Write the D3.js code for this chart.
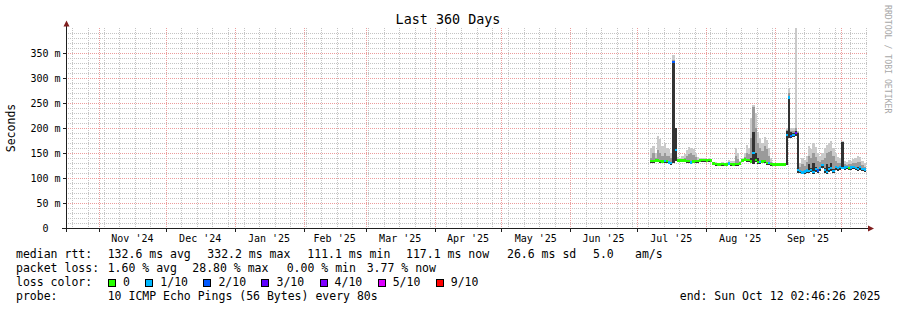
<!DOCTYPE html>
<html>
<head>
<meta charset="utf-8">
<script src="https://cdnjs.cloudflare.com/ajax/libs/d3/7.8.5/d3.min.js"></script>
<style>
  html, body { margin: 0; padding: 0; background: #fff; }
  svg { display: block; font-family: "DejaVu Sans Mono", monospace; }
  text { white-space: pre; }
</style>
</head>
<body>
<svg id="chart" width="897" height="310"></svg>
<script>
// one value per day, first day below
const firstDay = new Date(2025, 6, 7);
const endTime = new Date(2025, 9, 12, 2, 46, 26);

// median rtt in ms
const median = [
  134,134,135,135,134,133,134,134,131,130,
  332,156,135,135,135,135,134,134,131,133,
  134,134,135,136,136,135,136,135,129,128,
  127,127,128,127,127,129,128,127,128,128,
  129,135,137,136,136,133,150,136,132,132,
  133,134,130,130,128,127,127,127,127,127,
  127,186,261,184,186,190,116,114,111,113,
  115,114,116,112,118,115,120,126,116,112,
  118,120,114,122,120,122,120,121,122,120,
  121,122,120,118,122,118,117
];
// lost pings out of 10
const loss = [
  0,0,0,0,0,0,1,0,1,1,
  2,1,0,0,0,0,0,0,1,0,
  0,0,0,0,0,0,0,0,0,0,
  0,0,0,0,0,1,0,0,0,0,
  0,0,0,0,0,0,1,0,0,1,
  0,0,0,1,0,0,0,0,0,0,
  0,1,1,2,1,3,1,1,1,1,
  1,1,1,1,1,2,1,1,1,1,
  1,1,1,1,1,1,1,1,1,0,
  1,1,1,1,1,1,1
];
// smoke: lowest ping, outer / middle / inner upper bounds (ms)
const smokeLow = [
  131,131,132,132,131,130,131,131,128,127,
  130,134,132,132,132,132,131,131,128,130,
  131,131,132,133,133,132,133,132,126,125,
  124,124,125,124,124,126,125,124,125,125,
  126,132,134,133,133,130,128,133,129,129,
  130,131,127,127,125,124,124,124,124,124,
  124,127,180,180,182,184,111,110,108,109,
  111,110,112,108,113,111,115,120,111,108,
  112,114,110,117,115,117,118,117,118,116,
  117,118,116,114,117,114,112
];
const smokeOuter = [
  160,165,150,184,178,165,170,160,158,150,
  346,200,142,140,145,148,156,162,160,158,
  150,142,140,140,140,139,140,139,133,132,
  131,131,132,131,133,136,134,135,160,150,
  134,140,150,166,160,220,246,230,192,180,
  170,182,176,160,140,131,131,131,131,131,
  131,200,280,200,200,400,195,130,140,136,
  145,165,158,170,162,150,145,150,160,166,
  170,175,160,150,142,140,174,135,132,136,
  135,138,140,144,142,135,130
];
const smokeMid = [
  140,150,140,156,150,145,150,145,144,140,
  336,200,138,137,138,140,145,148,150,146,
  142,137,137,138,138,137,138,137,131,130,
  129,129,130,129,130,132,131,130,145,138,
  131,137,142,150,148,180,243,200,170,160,
  155,165,158,145,132,129,129,129,129,129,
  129,196,270,195,194,200,192,122,128,124,
  132,145,140,150,142,135,132,136,140,150,
  152,155,145,135,130,130,173,128,127,128,
  128,130,130,132,132,126,122
];
const smokeCore = [
  136,136,137,137,136,135,136,136,133,132,
  334,200,137,137,137,137,136,136,133,135,
  136,136,137,138,138,137,138,137,131,130,
  129,129,130,129,129,131,130,129,130,130,
  131,137,139,138,138,140,193,150,140,134,
  135,136,132,132,130,129,129,129,129,129,
  129,195,262,192,190,194,190,117,114,116,
  118,128,120,130,122,118,123,129,120,128,
  122,130,118,125,123,125,172,124,125,123,
  124,125,123,122,125,121,119
];

const yTicks = [0, 50, 100, 150, 200, 250, 300, 350];
const yTickLabels = ["0  ", "50 m", "100 m", "150 m", "200 m", "250 m", "300 m", "350 m"];
const monthLabels = ["Nov '24", "Dec '24", "Jan '25", "Feb '25", "Mar '25", "Apr '25",
                     "May '25", "Jun '25", "Jul '25", "Aug '25", "Sep '25"];
const lossLevels = [0, 1, 2, 3, 4, 5, 9];
const lossLabels = ["0", "1/10", "2/10", "3/10", "4/10", "5/10", "9/10"];
const lossColors = ["#26ff00", "#00b8ff", "#0059ff", "#5e00ff", "#7e00ff", "#dd00ff", "#ff0000"];

document.addEventListener("DOMContentLoaded", function() {
    drawChart("#chart");
});

function drawChart(selector) {
    const svg = d3.select(selector);
    const left = 66, right = 866, top = 28, bottom = 228;
    const startTime = d3.timeDay.offset(endTime, -360);

    const x = d3.scaleTime().domain([startTime, endTime]).range([left, right]);
    const y = d3.scaleLinear().domain([0, 400]).range([bottom, top]);
    const px = v => Math.round(v) + 0.5;

    // grid
    const grid = svg.append("g").attr("shape-rendering", "crispEdges");
    const minorY = d3.range(10, 400, 10).filter(v => v % 50 !== 0);
    grid.selectAll(".hmin").data(minorY).enter().append("line")
        .attr("x1", left).attr("x2", right + 1)
        .attr("y1", d => px(y(d))).attr("y2", d => px(y(d)))
        .attr("stroke", "#c4c4c4").attr("stroke-dasharray", "1,1");
    const weeks = d3.timeSunday.range(startTime, endTime);
    grid.selectAll(".vmin").data(weeks).enter().append("line")
        .attr("x1", d => px(x(d))).attr("x2", d => px(x(d)))
        .attr("y1", top).attr("y2", bottom)
        .attr("stroke", "#c4c4c4").attr("stroke-dasharray", "1,1");
    grid.selectAll(".hmaj").data(yTicks.slice(1)).enter().append("line")
        .attr("x1", left).attr("x2", right + 1)
        .attr("y1", d => px(y(d))).attr("y2", d => px(y(d)))
        .attr("stroke", "#ec9c9c").attr("stroke-dasharray", "1,1");
    const months = d3.timeMonth.range(d3.timeMonth.ceil(startTime), endTime);
    grid.selectAll(".vmaj").data(months).enter().append("line")
        .attr("x1", d => px(x(d))).attr("x2", d => px(x(d)))
        .attr("y1", top).attr("y2", bottom)
        .attr("stroke", "#ec9c9c").attr("stroke-dasharray", "1,1");

    // smoke
    const days = d3.timeDay.range(firstDay, d3.timeDay.offset(firstDay, median.length));
    const x0 = d => x(d);
    const w = d => x(d3.timeDay.offset(d, 1)) - x(d);
    const smoke = svg.append("g").attr("shape-rendering", "crispEdges");
    [[smokeOuter, "#cacaca"], [smokeMid, "#9a9a9a"], [smokeCore, "#323232"]].forEach(function(band) {
        const hi = band[0];
        smoke.selectAll(null).data(days).enter().append("rect")
            .attr("x", x0)
            .attr("width", w)
            .attr("y", (d, i) => y(Math.min(hi[i], 400)))
            .attr("height", (d, i) => y(smokeLow[i]) - y(Math.min(hi[i], 400)))
            .attr("fill", band[1]);
    });

    // median coloured by loss
    const lossColor = l => lossColors[lossLevels.indexOf(l)];
    svg.append("g").attr("shape-rendering", "crispEdges")
        .selectAll("rect").data(days).enter().append("rect")
        .attr("x", x0)
        .attr("width", w)
        .attr("y", (d, i) => y(median[i] + 2.5))
        .attr("height", (d, i) => y(median[i] - 2.5) - y(median[i] + 2.5))
        .attr("fill", (d, i) => lossColor(loss[i]));

    // axes
    const axis = svg.append("g").attr("shape-rendering", "crispEdges");
    axis.append("line").attr("x1", left - 4).attr("x2", right + 2)
        .attr("y1", bottom + 0.5).attr("y2", bottom + 0.5).attr("stroke", "#1f1f1f");
    axis.append("line").attr("x1", left + 0.5).attr("x2", left + 0.5)
        .attr("y1", top - 5).attr("y2", bottom + 4).attr("stroke", "#1f1f1f");
    axis.selectAll(".ty").data(yTicks.slice(1)).enter().append("line")
        .attr("x1", left - 3).attr("x2", left)
        .attr("y1", d => px(y(d))).attr("y2", d => px(y(d))).attr("stroke", "#1f1f1f");
    axis.selectAll(".tx").data(months).enter().append("line")
        .attr("x1", d => px(x(d))).attr("x2", d => px(x(d)))
        .attr("y1", bottom + 1).attr("y2", bottom + 4).attr("stroke", "#1f1f1f");

    svg.append("path").attr("d", `M${left - 2.5},${top - 1.5}L${left + 3.5},${top - 1.5}L${left + 0.5},${top - 7.5}Z`)
        .attr("fill", "#801f1f");
    svg.append("path").attr("d", `M${right + 2},${bottom - 2.5}L${right + 2},${bottom + 3.5}L${right + 8},${bottom + 0.5}Z`)
        .attr("fill", "#801f1f");

    // tick labels
    svg.selectAll(".ylab").data(yTicks).enter().append("text")
        .attr("x", 60.5).attr("y", d => y(d) + 3.6)
        .attr("text-anchor", "end")
        .style("font-size", "10px")
        .text((d, i) => yTickLabels[i]);

    svg.selectAll(".xlab").data(monthLabels).enter().append("text")
        .attr("x", (d, i) => x(new Date((+months[i] + +d3.timeMonth.offset(months[i], 1)) / 2)))
        .attr("y", 241.5)
        .attr("text-anchor", "middle")
        .style("font-size", "10px")
        .text(d => d);

    // titles
    svg.append("text").attr("x", 448).attr("y", 23.5).attr("text-anchor", "middle")
        .style("font-size", "13.4px").text("Last 360 Days");
    svg.append("text").attr("transform", "translate(14.5,128) rotate(-90)")
        .attr("text-anchor", "middle").style("font-size", "11.5px").text("Seconds");
    svg.append("text").attr("transform", "translate(885,5) rotate(90)")
        .style("font-size", "8.2px").attr("fill", "#a8a8a8").text("RRDTOOL / TOBI OETIKER");

    // legend
    const rows = [
        [258, [["median rtt:", 16], ["132.6 ms avg", 107.7], ["332.2 ms max", 207.3], ["111.1 ms min", 307.3],
               ["117.1 ms now", 406], ["26.6 ms sd", 507], ["5.0", 593], ["am/s", 635]]],
        [272, [["packet loss:", 16], ["1.60 % avg", 107.7], ["28.80 % max", 192.3], ["0.00 % min", 286.7],
               ["3.77 % now", 366.7]]],
        [286, [["loss color:", 16]]],
        [300, [["probe:", 16], ["10 ICMP Echo Pings (56 Bytes) every 80s", 107.7]]]
    ];
    rows.forEach(function(r) {
        r[1].forEach(function(s) {
            svg.append("text").attr("x", s[1]).attr("y", r[0])
                .style("font-size", "11.5px").text(s[0]);
        });
    });
    svg.append("text").attr("x", 880.5).attr("y", 300).attr("text-anchor", "end")
        .style("font-size", "11.5px").text("end: Sun Oct 12 02:46:26 2025");

    let bx = 108.5;
    lossLabels.forEach(function(lab, i) {
        svg.append("rect").attr("x", bx).attr("y", 279.5).attr("width", 7).attr("height", 7)
            .attr("fill", lossColors[i]).attr("stroke", "#000").attr("shape-rendering", "crispEdges");
        svg.append("text").attr("x", bx + 14.5).attr("y", 286)
            .style("font-size", "11.5px").text(lab);
        bx += 30.4 + lab.length * 6.92;
    });
}
</script>
</body>
</html>
